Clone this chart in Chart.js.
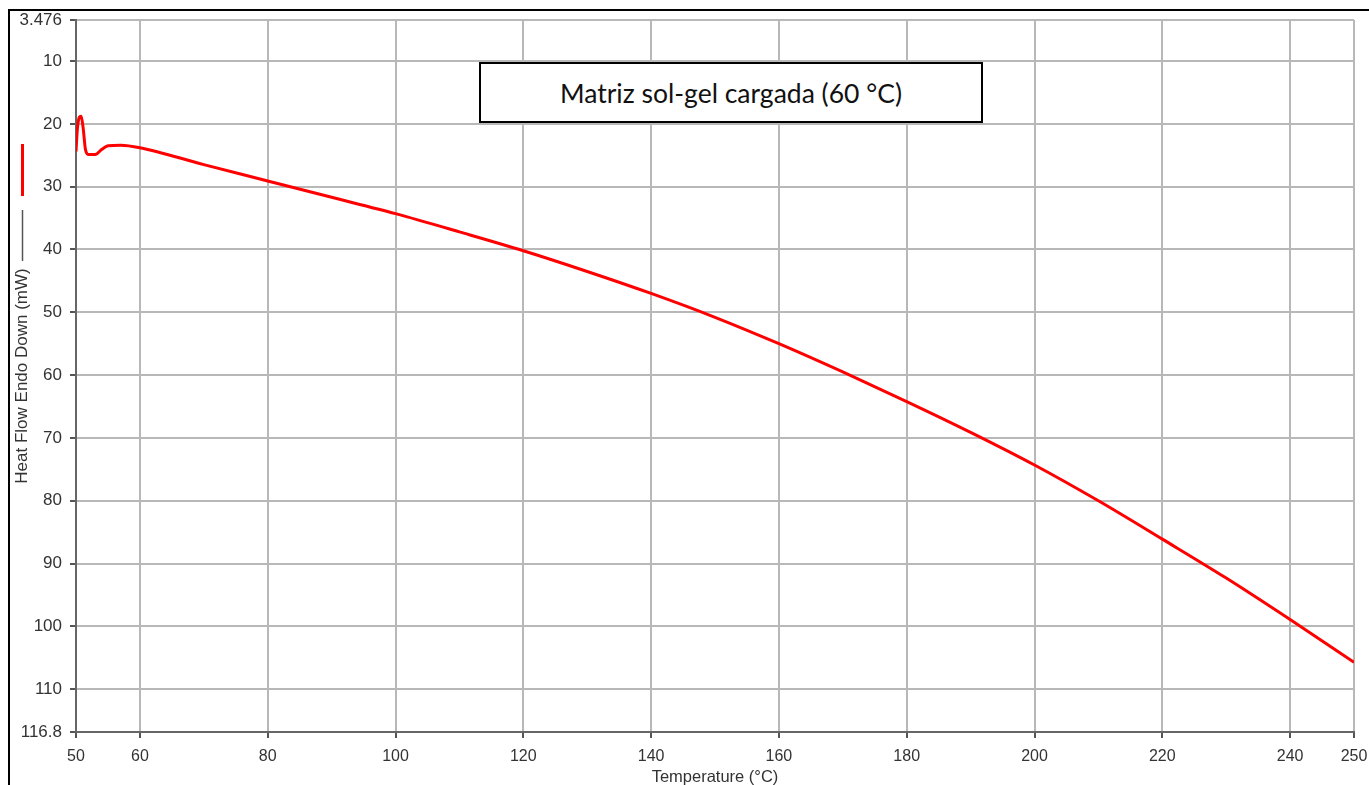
<!DOCTYPE html>
<html>
<head>
<meta charset="utf-8">
<script src="https://cdn.jsdelivr.net/npm/chart.js@4.4.1/dist/chart.umd.min.js"></script>
<style>
  html, body { margin: 0; padding: 0; background: #fff; }
  #wrap { position: relative; width: 1369px; height: 785px; overflow: hidden; }
  #frame { position: absolute; left: 8px; top: 9px; right: -10px; bottom: -10px;
           border-top: 2px solid #000; border-left: 2px solid #000; pointer-events: none; }
  #label { position: absolute; left: 479px; top: 62px; width: 500px; height: 57px;
           border: 2px solid #000; background: #fff; font-family: Lato, "Open Sans", sans-serif;
           font-size: 26.5px; color: #111; display: flex; align-items: center; justify-content: center; }
</style>
</head>
<body>
<div id="wrap">
  <canvas id="dscChart" width="1369" height="785"></canvas>
  <div id="frame"></div>
  <div id="label">Matriz sol-gel cargada (60 °C)</div>
</div>
<script>
// DSC curve (temperature in °C, heat flow in mW)
const temperature = [50.0, 50.2, 50.5, 50.8, 51.1, 51.5, 52.0, 53.0, 54.0, 55.0, 57.0, 60,
  70, 80, 90, 100, 110, 120, 130, 140, 150, 160, 170, 180, 190, 200, 210, 220, 230, 240, 250];
const heatFlow = [24.4, 21.0, 19.0, 18.8, 20.5, 24.2, 24.9, 24.9, 24.1, 23.5, 23.4, 23.8,
  26.5, 29.1, 31.7, 34.3, 37.2, 40.2, 43.5, 47.0, 50.8, 55.0, 59.5, 64.2, 69.1, 74.3, 80.0, 86.1, 92.3, 98.9, 105.7];

const xTicks = [50, 60, 80, 100, 120, 140, 160, 180, 200, 220, 240, 250];
const yTicks = [3.476, 10, 20, 30, 40, 50, 60, 70, 80, 90, 100, 110, 116.8];

const points = temperature.map((t, i) => ({ x: t, y: heatFlow[i] }));

// little red / grey marks next to the y axis title
const sideMarks = {
  id: 'sideMarks',
  afterDraw(chart) {
    const ctx = chart.ctx;
    ctx.save();
    ctx.lineCap = 'butt';
    ctx.strokeStyle = '#ff0000';
    ctx.lineWidth = 3;
    ctx.beginPath();
    ctx.moveTo(22.5, 144);
    ctx.lineTo(22.5, 196);
    ctx.stroke();
    ctx.strokeStyle = '#555';
    ctx.lineWidth = 1.5;
    ctx.beginPath();
    ctx.moveTo(22.5, 210);
    ctx.lineTo(22.5, 261);
    ctx.stroke();
    ctx.restore();
  }
};

const fontFamily = '"Liberation Sans", Arial, sans-serif';

new Chart(document.getElementById('dscChart'), {
  type: 'line',
  data: {
    datasets: [{
      data: points,
      borderColor: '#ff0000',
      borderWidth: 3,
      pointRadius: 0,
      tension: 0.3,
      cubicInterpolationMode: 'monotone',
      fill: false
    }]
  },
  options: {
    responsive: false,
    animation: false,
    layout: { padding: { left: 0, top: 20, right: 15, bottom: 0 } },
    plugins: { legend: { display: false }, tooltip: { enabled: false } },
    scales: {
      x: {
        type: 'linear',
        min: 50,
        max: 250,
        afterBuildTicks: (scale) => { scale.ticks = xTicks.map(v => ({ value: v })); },
        afterFit: (scale) => { scale.height = 53; scale.paddingLeft = 0; scale.paddingRight = 0; },
        grid: { color: '#b8b8b8', lineWidth: 2, tickColor: '#555', tickLength: 6 },
        border: { color: '#666', width: 2 },
        ticks: { font: { family: fontFamily, size: 16 }, color: '#333', padding: 9, maxRotation: 0, callback: (v) => String(v) },
        title: { display: true, text: 'Temperature (°C)', font: { family: fontFamily, size: 16.5 }, color: '#333', padding: { top: 0, bottom: -2 } }
      },
      y: {
        type: 'linear',
        reverse: true,
        min: 3.476,
        max: 116.8,
        afterBuildTicks: (scale) => { scale.ticks = yTicks.map(v => ({ value: v })); },
        afterFit: (scale) => { scale.width = 76; scale.paddingTop = 0; scale.paddingBottom = 0; },
        grid: { color: '#b8b8b8', lineWidth: 2, tickColor: '#555', tickLength: 6 },
        border: { color: '#666', width: 2 },
        ticks: { font: { family: fontFamily, size: 17 }, color: '#333', padding: 8, callback: (v) => String(v) },
        title: { display: true, text: 'Heat Flow Endo Down (mW)', font: { family: fontFamily, size: 17 }, color: '#333', padding: { top: 12, bottom: 0 } }
      }
    }
  },
  plugins: [sideMarks]
});
</script>
</body>
</html>
